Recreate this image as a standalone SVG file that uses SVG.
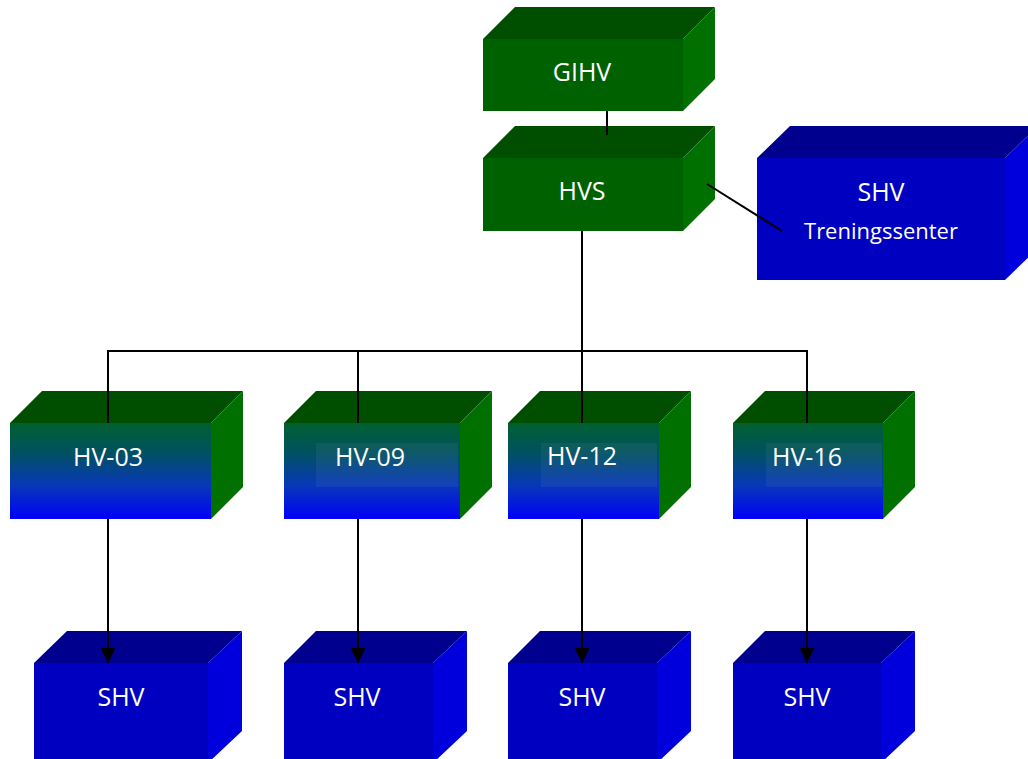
<svg xmlns="http://www.w3.org/2000/svg" width="1028" height="759" viewBox="0 0 1028 759">
<defs>
<linearGradient id="hvgrad" x1="0" y1="0" x2="0" y2="1">
<stop offset="0" stop-color="#006030"/>
<stop offset="0.3" stop-color="#00525e"/>
<stop offset="0.65" stop-color="#0838b8"/>
<stop offset="1" stop-color="#0000f8"/>
</linearGradient>
<marker id="arr" markerWidth="17" markerHeight="15" refX="16" refY="8" orient="auto" markerUnits="userSpaceOnUse" viewBox="0 0 16 16">
<path d="M0,0 L16,8 L0,16 Z" fill="#000"/>
</marker>
<style>
.gt{fill:#004e00}.gf{fill:#006100}.gr{fill:#007000}
.bt{fill:#00008f}.bf{fill:#0000c0}.br{fill:#0000dd}
.ht{fill:#004e00}.hf{fill:url(#hvgrad)}.hr{fill:#007000}
.hl{fill:#ffffff;fill-opacity:0.05}
.lbl{font-family:"Open Sans","Noto Sans","Liberation Sans",sans-serif;font-size:25px;fill:#ffffff;text-anchor:middle}
.sub{font-size:22px}
.ln{stroke:#000;stroke-width:2;fill:none}
</style>
</defs>
<rect width="1028" height="759" fill="#fff"/>
<g id="GIHV">
<polygon class="gt" points="483,39 515,7 715,7 683,39"/>
<rect class="gf" x="483" y="39" width="200" height="72"/>
<polygon class="gr" points="683,39 715,7 715,79 683,111"/>
<text class="lbl" x="582" y="81">GIHV</text>
</g>
<g id="HVS">
<polygon class="gt" points="483,158 515,126 715,126 683,158"/>
<rect class="gf" x="483" y="158" width="200" height="73"/>
<polygon class="gr" points="683,158 715,126 715,199 683,231"/>
<text class="lbl" x="582" y="200">HVS</text>
</g>
<g id="SHV-T">
<polygon class="bt" points="757,158 790,126 1038,126 1005,158"/>
<rect class="bf" x="757" y="158" width="248" height="122"/>
<polygon class="br" points="1005,158 1038,126 1038,248 1005,280"/>
<text class="lbl" x="881" y="201">SHV</text>
<text class="lbl sub" x="881" y="239">Treningssenter</text>
</g>
<g id="HV-03">
<polygon class="ht" points="10,423 42,391 243,391 211,423"/>
<rect class="hf" x="10" y="423" width="201" height="96"/>
<polygon class="hr" points="211,423 243,391 243,487 211,519"/>
<text class="lbl" x="108" y="466">HV-03</text>
</g>
<g id="HV-09">
<polygon class="ht" points="284,423 316,391 492,391 460,423"/>
<rect class="hf" x="284" y="423" width="176" height="96"/>
<polygon class="hr" points="460,423 492,391 492,487 460,519"/>
<rect class="hl" x="316" y="443" width="142" height="44"/>
<text class="lbl" x="370" y="466">HV-09</text>
</g>
<g id="HV-12">
<polygon class="ht" points="508,423 540,391 691,391 659,423"/>
<rect class="hf" x="508" y="423" width="151" height="96"/>
<polygon class="hr" points="659,423 691,391 691,487 659,519"/>
<rect class="hl" x="541" y="443" width="116" height="44"/>
<text class="lbl" x="582" y="465">HV-12</text>
</g>
<g id="HV-16">
<polygon class="ht" points="733,423 765,391 915,391 883,423"/>
<rect class="hf" x="733" y="423" width="150" height="96"/>
<polygon class="hr" points="883,423 915,391 915,487 883,519"/>
<rect class="hl" x="766" y="443" width="116" height="44"/>
<text class="lbl" x="807" y="466">HV-16</text>
</g>
<g id="SHV-1">
<polygon class="bt" points="34,663 67,631 242,631 208,663"/>
<rect class="bf" x="34" y="663" width="174" height="100"/>
<polygon class="br" points="208,663 242,631 242,731 208,763"/>
<text class="lbl" x="121" y="706">SHV</text>
</g>
<g id="SHV-2">
<polygon class="bt" points="284,663 316,631 467,631 433,663"/>
<rect class="bf" x="284" y="663" width="149" height="100"/>
<polygon class="br" points="433,663 467,631 467,731 433,763"/>
<text class="lbl" x="357" y="706">SHV</text>
</g>
<g id="SHV-3">
<polygon class="bt" points="508,663 540,631 691,631 657,663"/>
<rect class="bf" x="508" y="663" width="149" height="100"/>
<polygon class="br" points="657,663 691,631 691,731 657,763"/>
<text class="lbl" x="582" y="706">SHV</text>
</g>
<g id="SHV-4">
<polygon class="bt" points="733,663 765,631 915,631 881,663"/>
<rect class="bf" x="733" y="663" width="148" height="100"/>
<polygon class="br" points="881,663 915,631 915,731 881,763"/>
<text class="lbl" x="807" y="706">SHV</text>
</g>
<g id="connectors">
<line class="ln" x1="607" y1="111" x2="607" y2="135"/>
<line class="ln" x1="582" y1="231" x2="582" y2="351"/>
<line class="ln" x1="707" y1="184" x2="782" y2="231"/>
<polyline class="ln" points="108,423 108,351 807,351 807,423"/>
<line class="ln" x1="358" y1="351" x2="358" y2="423"/>
<line class="ln" x1="582" y1="351" x2="582" y2="423"/>
<line class="ln" x1="108" y1="519" x2="108" y2="663" marker-end="url(#arr)"/>
<line class="ln" x1="358" y1="519" x2="358" y2="663" marker-end="url(#arr)"/>
<line class="ln" x1="582" y1="519" x2="582" y2="663" marker-end="url(#arr)"/>
<line class="ln" x1="807" y1="519" x2="807" y2="663" marker-end="url(#arr)"/>
</g>
</svg>
